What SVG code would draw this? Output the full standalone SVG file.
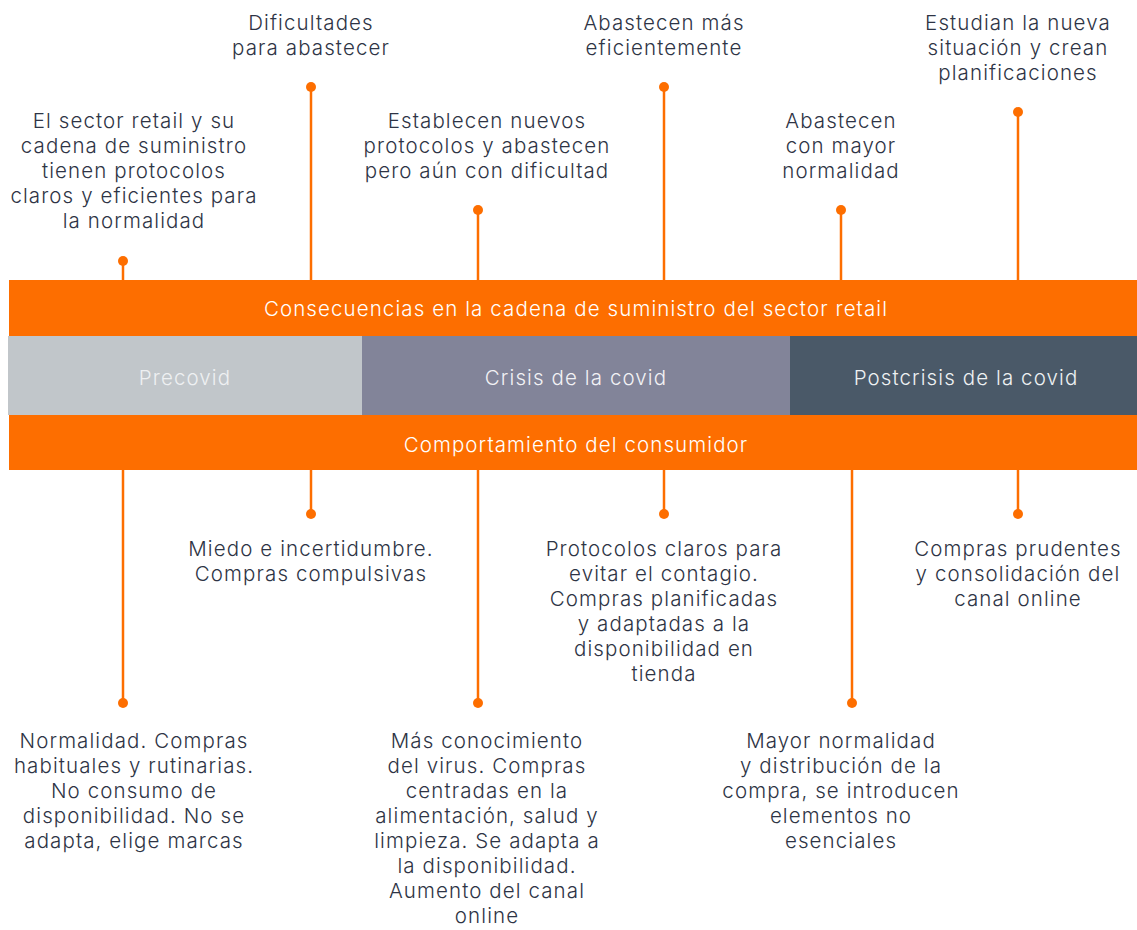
<svg xmlns="http://www.w3.org/2000/svg" width="1137" height="930" viewBox="0 0 1137 930">
<style>
.t{font-family:Inter,"Open Sans","Liberation Sans",sans-serif;font-size:20.5px;font-weight:300;letter-spacing:1.1px;fill:#2E3445;text-anchor:middle}
.b{font-family:Inter,"Open Sans","Liberation Sans",sans-serif;font-size:20.5px;font-weight:300;letter-spacing:1.1px;text-anchor:middle}
.stem{stroke:#FD6E00;stroke-width:2.5;fill:none}
.dot{fill:#FD6E00}
</style>
<rect width="1137" height="930" fill="#FFFFFF"/>
<g id="connectors">
<line class="stem" x1="123" y1="261" x2="123" y2="281"/><circle class="dot" cx="123" cy="261" r="5"/>
<line class="stem" x1="311" y1="87" x2="311" y2="281"/><circle class="dot" cx="311" cy="87" r="5"/>
<line class="stem" x1="478" y1="210" x2="478" y2="281"/><circle class="dot" cx="478" cy="210" r="5"/>
<line class="stem" x1="664" y1="87" x2="664" y2="281"/><circle class="dot" cx="664" cy="87" r="5"/>
<line class="stem" x1="841" y1="210" x2="841" y2="281"/><circle class="dot" cx="841" cy="210" r="5"/>
<line class="stem" x1="1018" y1="112" x2="1018" y2="281"/><circle class="dot" cx="1018" cy="112" r="5"/>
<line class="stem" x1="123" y1="469" x2="123" y2="703"/><circle class="dot" cx="123" cy="703" r="5"/>
<line class="stem" x1="311" y1="469" x2="311" y2="514"/><circle class="dot" cx="311" cy="514" r="5"/>
<line class="stem" x1="478" y1="469" x2="478" y2="703"/><circle class="dot" cx="478" cy="703" r="5"/>
<line class="stem" x1="664" y1="469" x2="664" y2="514"/><circle class="dot" cx="664" cy="514" r="5"/>
<line class="stem" x1="852" y1="469" x2="852" y2="703"/><circle class="dot" cx="852" cy="703" r="5"/>
<line class="stem" x1="1018" y1="469" x2="1018" y2="514"/><circle class="dot" cx="1018" cy="514" r="5"/>
</g>
<g id="band-supply">
<rect x="9" y="280" width="1128" height="56" fill="#FD6E00"/>
<text class="b" x="576" y="316" fill="#FFFFFF">Consecuencias en la cadena de suministro del sector retail</text>
</g>
<g id="phase-precovid">
<rect x="8" y="336" width="354" height="79" fill="#C1C6CA"/>
<text class="b" x="185" y="385" fill="#EEF0F2">Precovid</text>
</g>
<g id="phase-crisis">
<rect x="362" y="336" width="428" height="79" fill="#828499"/>
<text class="b" x="576" y="385" fill="#F2F2F5">Crisis de la covid</text>
</g>
<g id="phase-postcrisis">
<rect x="790" y="336" width="347" height="79" fill="#4A5968"/>
<text class="b" x="966" y="385" fill="#EEF1F3">Postcrisis de la covid</text>
</g>
<g id="band-consumer">
<rect x="9" y="415" width="1128" height="55" fill="#FD6E00"/>
<text class="b" x="576" y="452" fill="#FFFFFF">Comportamiento del consumidor</text>
</g>
<g id="top-1">
<text class="t" y="128"><tspan x="134">El sector retail y su</tspan><tspan x="134" dy="25">cadena de suministro</tspan><tspan x="134" dy="25">tienen protocolos</tspan><tspan x="134" dy="25">claros y eficientes para</tspan><tspan x="134" dy="25">la normalidad</tspan></text>
</g>
<g id="top-2">
<text class="t" y="30"><tspan x="311">Dificultades</tspan><tspan x="311" dy="25">para abastecer</tspan></text>
</g>
<g id="top-3">
<text class="t" y="128"><tspan x="487">Establecen nuevos</tspan><tspan x="487" dy="25">protocolos y abastecen</tspan><tspan x="487" dy="25">pero aún con dificultad</tspan></text>
</g>
<g id="top-4">
<text class="t" y="30"><tspan x="664">Abastecen más</tspan><tspan x="664" dy="25">eficientemente</tspan></text>
</g>
<g id="top-5">
<text class="t" y="128"><tspan x="841">Abastecen</tspan><tspan x="841" dy="25">con mayor</tspan><tspan x="841" dy="25">normalidad</tspan></text>
</g>
<g id="top-6">
<text class="t" y="30"><tspan x="1018">Estudian la nueva</tspan><tspan x="1018" dy="25">situación y crean</tspan><tspan x="1018" dy="25">planificaciones</tspan></text>
</g>
<g id="bottom-1">
<text class="t" y="748"><tspan x="134">Normalidad. Compras</tspan><tspan x="134" dy="25">habituales y rutinarias.</tspan><tspan x="134" dy="25">No consumo de</tspan><tspan x="134" dy="25">disponibilidad. No se</tspan><tspan x="134" dy="25">adapta, elige marcas</tspan></text>
</g>
<g id="bottom-2">
<text class="t" y="556"><tspan x="311">Miedo e incertidumbre.</tspan><tspan x="311" dy="25">Compras compulsivas</tspan></text>
</g>
<g id="bottom-3">
<text class="t" y="748"><tspan x="487">Más conocimiento</tspan><tspan x="487" dy="25">del virus. Compras</tspan><tspan x="487" dy="25">centradas en la</tspan><tspan x="487" dy="25">alimentación, salud y</tspan><tspan x="487" dy="25">limpieza. Se adapta a</tspan><tspan x="487" dy="25">la disponibilidad.</tspan><tspan x="487" dy="25">Aumento del canal</tspan><tspan x="487" dy="25">online</tspan></text>
</g>
<g id="bottom-4">
<text class="t" y="556"><tspan x="664">Protocolos claros para</tspan><tspan x="664" dy="25">evitar el contagio.</tspan><tspan x="664" dy="25">Compras planificadas</tspan><tspan x="664" dy="25">y adaptadas a la</tspan><tspan x="664" dy="25">disponibilidad en</tspan><tspan x="664" dy="25">tienda</tspan></text>
</g>
<g id="bottom-5">
<text class="t" y="748"><tspan x="841">Mayor normalidad</tspan><tspan x="841" dy="25">y distribución de la</tspan><tspan x="841" dy="25">compra, se introducen</tspan><tspan x="841" dy="25">elementos no</tspan><tspan x="841" dy="25">esenciales</tspan></text>
</g>
<g id="bottom-6">
<text class="t" y="556"><tspan x="1018">Compras prudentes</tspan><tspan x="1018" dy="25">y consolidación del</tspan><tspan x="1018" dy="25">canal online</tspan></text>
</g>
</svg>
